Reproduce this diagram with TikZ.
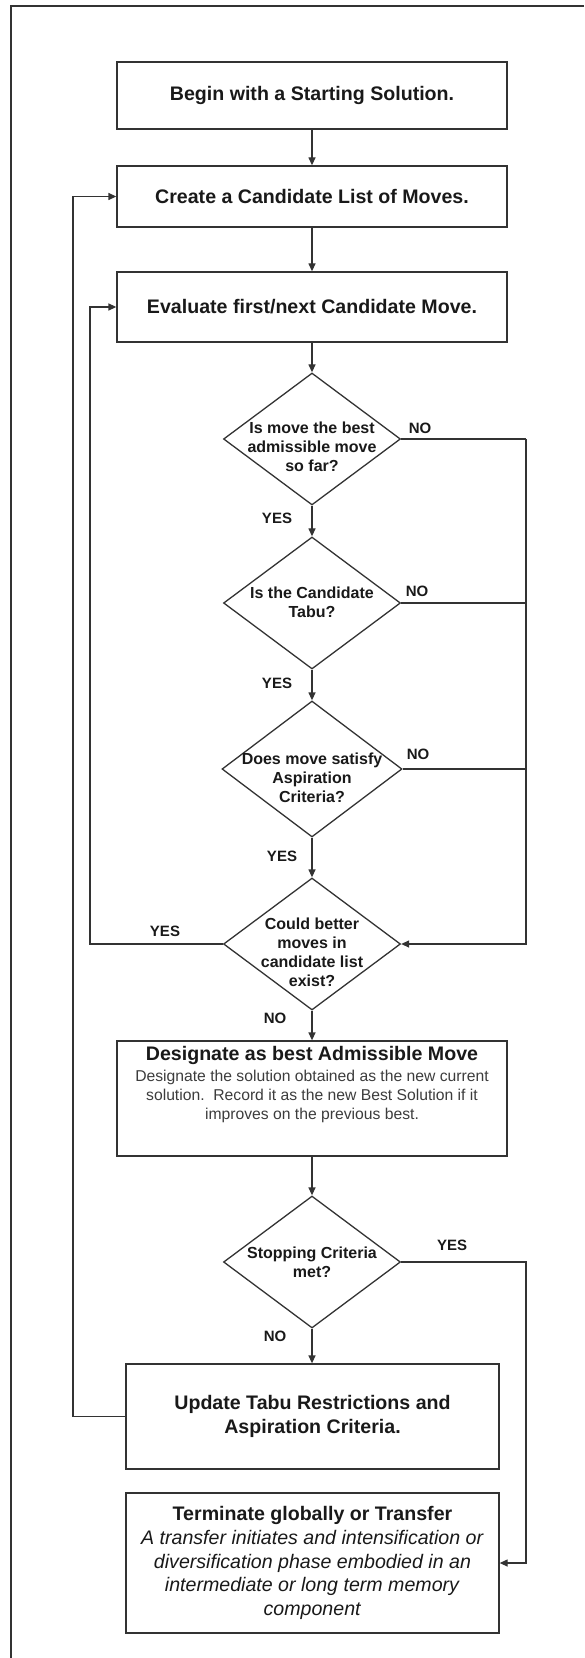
\documentclass[tikz,border=0pt]{standalone}
\usepackage{fontspec}
\setmainfont{Liberation Sans}
\usepackage{tikz}
\usetikzlibrary{positioning, arrows.meta, shapes.geometric}
\definecolor{linegray}{RGB}{51,51,51}
\definecolor{textgray}{RGB}{25,25,25}
\definecolor{bodygray}{RGB}{60,60,60}
\tikzset{
  stepbox/.style={draw=linegray, line width=0.65pt, rectangle, inner sep=0pt, minimum width=195pt, align=center, text=textgray, font=\bfseries\fontsize{9.8}{12}\selectfont},
  decision/.style={draw=linegray, line width=0.65pt, diamond, inner sep=0pt, minimum width=88.5pt, minimum height=66pt},
  qtext/.style={align=center, inner sep=0pt, text=textgray, font=\bfseries\fontsize{8}{9.5}\selectfont},
  lbl/.style={inner sep=0pt, text=textgray, font=\bfseries\fontsize{7.5}{9}\selectfont},
  arr/.style={-{Triangle[length=4pt,width=3.5pt]}, draw=linegray, line width=0.65pt},
  link/.style={draw=linegray, line width=0.65pt},
}
\begin{document}
\begin{tikzpicture}[x=0.5pt, y=-0.5pt]
  \useasboundingbox (0,0) rectangle (584,1658);
  % page frame
  \draw[linegray, line width=0.8pt] (584,6) -- (11,6) -- (11,1658);

  % main column
  \node[stepbox, minimum height=33.5pt] (start) at (312,95.5) {Begin with a Starting Solution.};
  \node[stepbox, minimum height=30.5pt] (cand) at (312,196.5) {Create a Candidate List of Moves.};
  \node[stepbox, minimum height=35pt] (eval) at (312,307) {Evaluate first/next Candidate Move.};

  \node[decision] (best) at (312,439) {};
  \node[qtext] (bestq) at (312,447) {Is move the best\\admissible move\\so far?};
  \node[decision] (tabu) at (312,603) {};
  \node[qtext] (tabuq) at (312,602) {Is the Candidate\\Tabu?};
  \node[decision, minimum width=90pt, minimum height=68pt] (asp) at (312,769) {};
  \node[qtext] (aspq) at (312,778) {Does move satisfy\\Aspiration\\Criteria?};
  \node[decision] (better) at (312,944) {};
  \node[qtext] (betterq) at (312,952) {Could better\\moves in\\candidate list\\exist?};

  \node[stepbox, minimum height=57.5pt] (desig) at (312,1098.5) {};
  \node[align=center, inner sep=0pt, text=bodygray, font=\fontsize{7.85}{9.5}\selectfont] (desigt) at (312,1085)
    {{\color{textgray}\bfseries\fontsize{9.8}{9.5}\selectfont Designate as best Admissible Move}\\[1pt]
     Designate the solution obtained as the new current\\
     solution.\ \ Record it as the new Best Solution if it\\
     improves on the previous best.};

  \node[decision] (stop) at (312,1262) {};
  \node[qtext] (stopq) at (312,1262) {Stopping Criteria\\met?};

  \node[stepbox, minimum width=186.5pt, minimum height=52.5pt, font=\bfseries\fontsize{9.8}{12.4}\selectfont] (update) at (312.5,1416.5)
    {Update Tabu Restrictions and\\Aspiration Criteria.};
  \node[stepbox, minimum width=186.5pt, minimum height=70pt, font=\fontsize{9.8}{11.8}\selectfont] (term) at (312.5,1563)
    {\textbf{Terminate globally or Transfer}\\
     \textit{A transfer initiates and intensification or}\\
     \textit{diversification phase embodied in an}\\
     \textit{intermediate or long term memory}\\
     \textit{component}};

  % branch labels
  \node[lbl] (no1) at (420,428) {NO};
  \node[lbl] (yes1) at (277,518) {YES};
  \node[lbl] (no2) at (417,591) {NO};
  \node[lbl] (yes2) at (277,683) {YES};
  \node[lbl] (no3) at (418,754) {NO};
  \node[lbl] (yes3) at (282,856) {YES};
  \node[lbl] (yes4) at (165,931) {YES};
  \node[lbl] (no4) at (275,1018) {NO};
  \node[lbl] (yes5) at (452,1245) {YES};
  \node[lbl] (no5) at (275,1336) {NO};

  % bends
  \coordinate (nojoin) at (526,439);
  \coordinate (yesback) at (90,944);
  \coordinate (updback) at (73,1416.5);
  \coordinate (stopjoin) at (526,1262);

  % connectors
  \draw[arr] (start) -- (cand);
  \draw[arr] (cand) -- (eval);
  \draw[arr] (eval) -- (best);
  \draw[arr] (best) -- (tabu);
  \draw[arr] (tabu) -- (asp);
  \draw[arr] (asp) -- (better);
  \draw[arr] (better) -- (desig);
  \draw[arr] (desig) -- (stop);
  \draw[arr] (stop.south) -- (stop.south |- update.north);
  \draw[link] (best.east) -- (nojoin);
  \draw[link] (tabu.east) -- (tabu.east -| nojoin);
  \draw[link] (asp.east) -- (asp.east -| nojoin);
  \draw[arr] (nojoin) |- (better.east);
  \draw[arr] (better.west) -- (yesback) |- (eval.west);
  \draw[arr] (update.west) -- (updback) |- (cand.west);
  \draw[arr] (stop.east) -- (stopjoin) |- (term.east);
\end{tikzpicture}
\end{document}
